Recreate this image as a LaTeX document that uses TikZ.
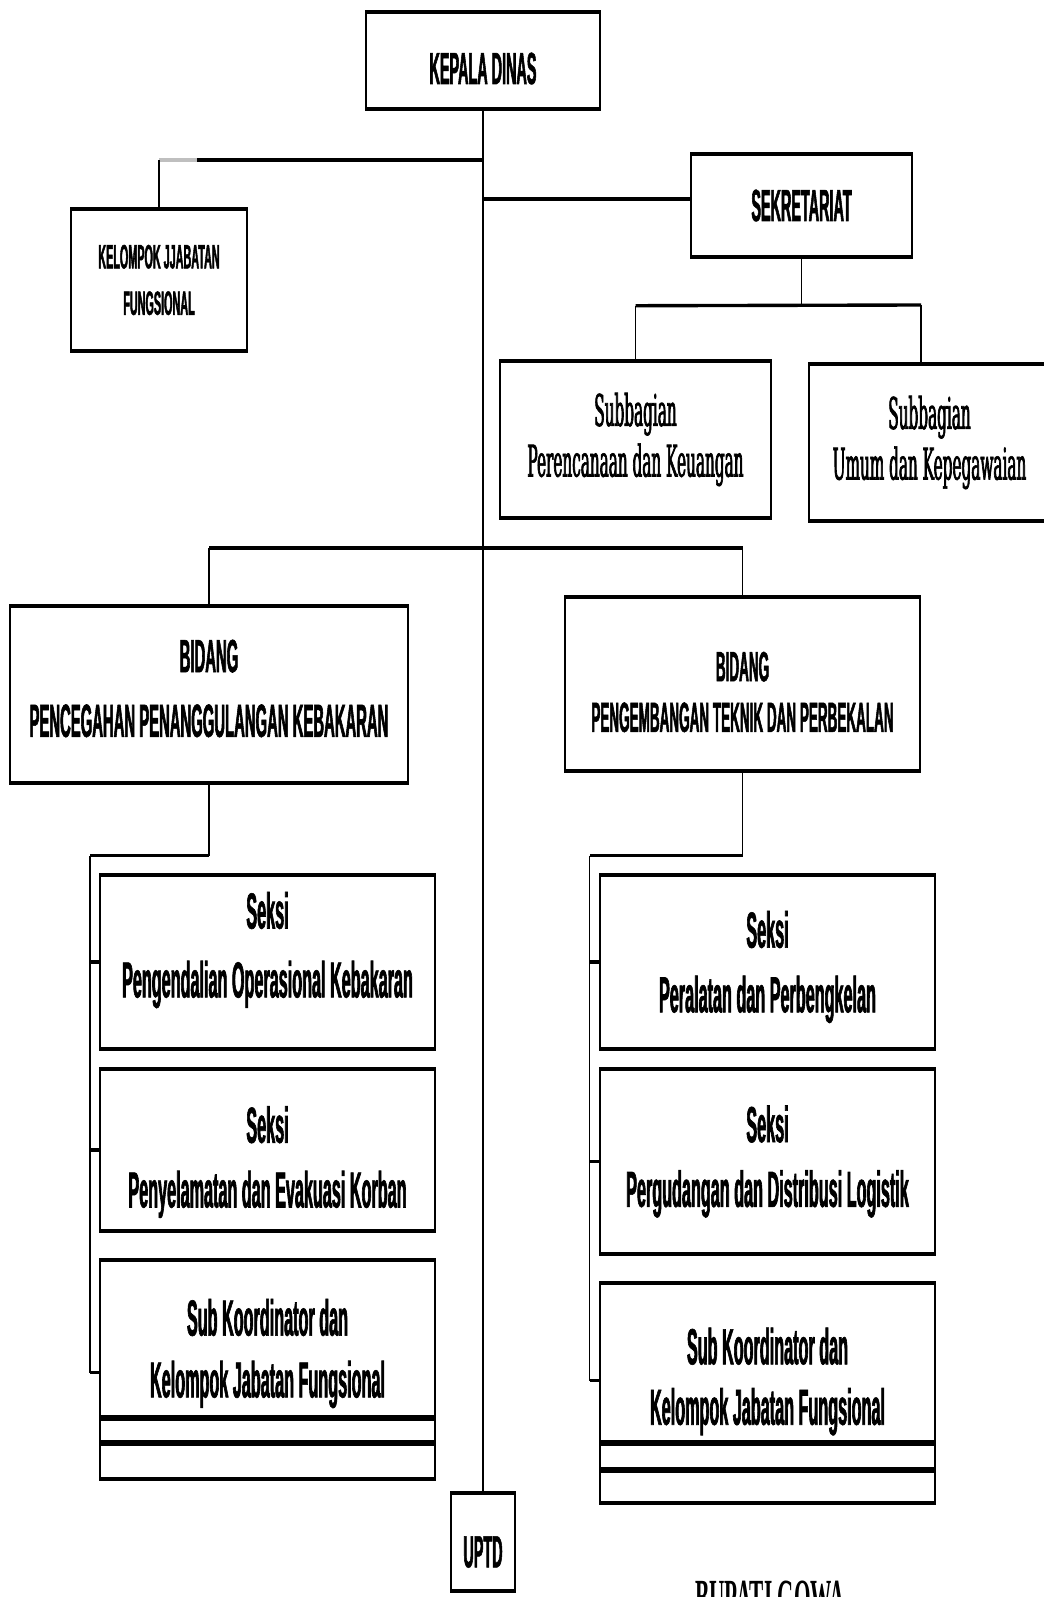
\documentclass[tikz,border=0pt]{standalone}
\usepackage{fontspec}
\newfontfamily\condsans[FakeStretch=0.32, FakeBold=1.2]{Liberation Sans}
\newfontfamily\condserif[FakeStretch=0.42]{Liberation Serif}
\newfontfamily\slabserif[FakeStretch=0.35, FakeBold=1.5]{DejaVu Serif}
\tikzset{
  unit/.style={draw, line width=1pt, inner sep=0pt},
  hline/.style={line width=2.4pt},
  vline/.style={line width=1pt},
  edge/.style={line width=3pt},
  headtext/.style={align=center, font=\condsans\bfseries\fontsize{32}{38}\selectfont},
  smalltext/.style={align=center, font=\condsans\bfseries\fontsize{24}{33}\selectfont},
  subtext/.style={align=center, font=\slabserif\fontsize{31}{36}\selectfont},
  seksitext/.style={align=center, font=\condsans\bfseries\fontsize{36}{46}\selectfont},
}
\begin{document}
\begin{tikzpicture}[x=0.025cm, y=-0.025cm]
  \useasboundingbox (0,0) rectangle (1044,1597);
  % top level
  \node[unit, minimum width=5.85cm, minimum height=2.375cm,
    label={[headtext, yshift=-0.2cm]center:KEPALA DINAS}] (kadis) at (483,60.5) {};
  \node[unit, minimum width=5.525cm, minimum height=2.525cm,
    label={[headtext]center:SEKRETARIAT}] (sekr) at (801.5,205.5) {};
  \node[unit, minimum width=4.4cm, minimum height=3.5cm,
    label={[smalltext]center:KELOMPOK JJABATAN\\FUNGSIONAL}] (kjf) at (159,280) {};
  \node[unit, minimum width=6.775cm, minimum height=3.875cm,
    label={[subtext]center:Subbagian\\Perencanaan dan Keuangan}] (sub1) at (635.5,439.5) {};
  \node[unit, minimum width=6.025cm, minimum height=3.875cm,
    label={[subtext]center:Subbagian\\Umum dan Kepegawaian}] (sub2) at (929.5,442.5) {};
  % bidang
  \node[unit, minimum width=9.95cm, minimum height=4.375cm,
    label={[headtext, font=\condsans\bfseries\fontsize{33}{46}\selectfont, yshift=0.15cm]center:BIDANG\\PENCEGAHAN PENANGGULANGAN KEBAKARAN}] (bid1) at (209,694.5) {};
  \node[unit, minimum width=8.875cm, minimum height=4.3cm,
    label={[headtext, font=\condsans\bfseries\fontsize{30}{36}\selectfont, yshift=-0.2cm]center:BIDANG\\PENGEMBANGAN TEKNIK DAN PERBEKALAN}] (bid2) at (742.5,684) {};
  % seksi kiri
  \node[unit, minimum width=8.375cm, minimum height=4.3cm,
    label={[seksitext, font=\condsans\bfseries\fontsize{36}{49}\selectfont, yshift=0.3cm]center:Seksi\\Pengendalian Operasional Kebakaran}] (sl1) at (267.5,962) {};
  \node[unit, minimum width=8.375cm, minimum height=4cm,
    label={[seksitext, yshift=-0.3cm]center:Seksi\\Penyelamatan dan Evakuasi Korban}] (sl2) at (267.5,1150) {};
  \node[unit, minimum width=8.375cm, minimum height=3.925cm,
    label={[seksitext, font=\condsans\bfseries\fontsize{36}{44}\selectfont, yshift=-0.35cm]center:Sub Koordinator dan\\Kelompok Jabatan Fungsional}] (sl3) at (267.5,1339.5) {};
  \node[unit, minimum width=8.375cm, minimum height=0.625cm] (sl3a) at (267.5,1430.5) {};
  \node[unit, minimum width=8.375cm, minimum height=0.875cm] (sl3b) at (267.5,1460.5) {};
  % seksi kanan
  \node[unit, minimum width=8.375cm, minimum height=4.3cm,
    label={[seksitext, yshift=-0.125cm]center:Seksi\\Peralatan dan Perbengkelan}] (sr1) at (767.5,962) {};
  \node[unit, minimum width=8.375cm, minimum height=4.575cm,
    label={[seksitext]center:Seksi\\Pergudangan dan Distribusi Logistik}] (sr2) at (767.5,1161.5) {};
  \node[unit, minimum width=8.375cm, minimum height=3.975cm,
    label={[seksitext, font=\condsans\bfseries\fontsize{36}{43}\selectfont, yshift=-0.45cm]center:Sub Koordinator dan\\Kelompok Jabatan Fungsional}] (sr3) at (767.5,1363.5) {};
  \node[unit, minimum width=8.375cm, minimum height=0.675cm] (sr3a) at (767.5,1456.5) {};
  \node[unit, minimum width=8.375cm, minimum height=0.8cm] (sr3b) at (767.5,1486) {};
  % uptd
  \node[unit, minimum width=1.6cm, minimum height=2.4cm,
    label={[headtext, yshift=-0.25cm]center:UPTD}] (uptd) at (483,1542) {};
  \node[font=\condserif\bfseries\fontsize{36}{40}\selectfont, anchor=base] (bupati) at (770,1614) {BUPATI GOWA};

  \foreach \n in {kadis,sekr,kjf,sub1,sub2,bid1,bid2,sl1,sl2,sl3,sl3a,sl3b,sr1,sr2,sr3,sr3a,sr3b,uptd}
    \draw[edge] (\n.north west) -- (\n.north east) (\n.south west) -- (\n.south east);

  % garis utama
  \draw[vline] (kadis.south) -- (uptd.north);
  \coordinate (jkjf) at (483,160);
  \coordinate (jsek) at (483,199);
  \coordinate (jbid) at (483,548);
  \draw[hline] (jkjf) -- (kjf.north |- jkjf);
  \draw[hline, black!25] (kjf.north |- jkjf) -- ++(38,0);
  \draw[vline] (kjf.north |- jkjf) -- (kjf.north);
  \draw[hline] (jsek) -- (sekr.west |- jsek);

  % sekretariat
  \draw[vline] (sekr.south) -- ++(0,49) coordinate (jsub);
  \coordinate (jsub2) at (921,305);
  \draw[hline] (sub1.north |- jsub) -- (jsub2);
  \draw[vline] (sub1.north |- jsub) -- (sub1.north);
  \draw[vline] (jsub2) -- (jsub2 |- sub2.north);

  % bidang
  \draw[hline] (bid1.north |- jbid) -- (bid2.north |- jbid);
  \draw[vline] (bid1.north |- jbid) -- (bid1.north);
  \draw[vline] (bid2.north |- jbid) -- (bid2.north);

  % kiri
  \draw[vline] (bid1.south) -- ++(0,73) coordinate (jl);
  \draw[hline] (jl) -- ++(-119,0) coordinate (tl);
  \draw[vline] (tl) -- ++(0,517) coordinate (tlend);
  \draw[hline] (tl |- sl1.west) -- (sl1.west);
  \draw[hline] (tl |- sl2.west) -- (sl2.west);
  \draw[hline] (tlend) -- (sl3.west |- tlend);

  % kanan
  \draw[vline] (bid2.south) -- ++(0,85) coordinate (jr);
  \draw[hline] (jr) -- ++(-153,0) coordinate (tr);
  \draw[vline] (tr) -- ++(0,525) coordinate (trend);
  \draw[hline] (tr |- sr1.west) -- (sr1.west);
  \draw[hline] (tr |- sr2.west) -- (sr2.west);
  \draw[hline] (trend) -- (sr3.west |- trend);
\end{tikzpicture}
\end{document}
